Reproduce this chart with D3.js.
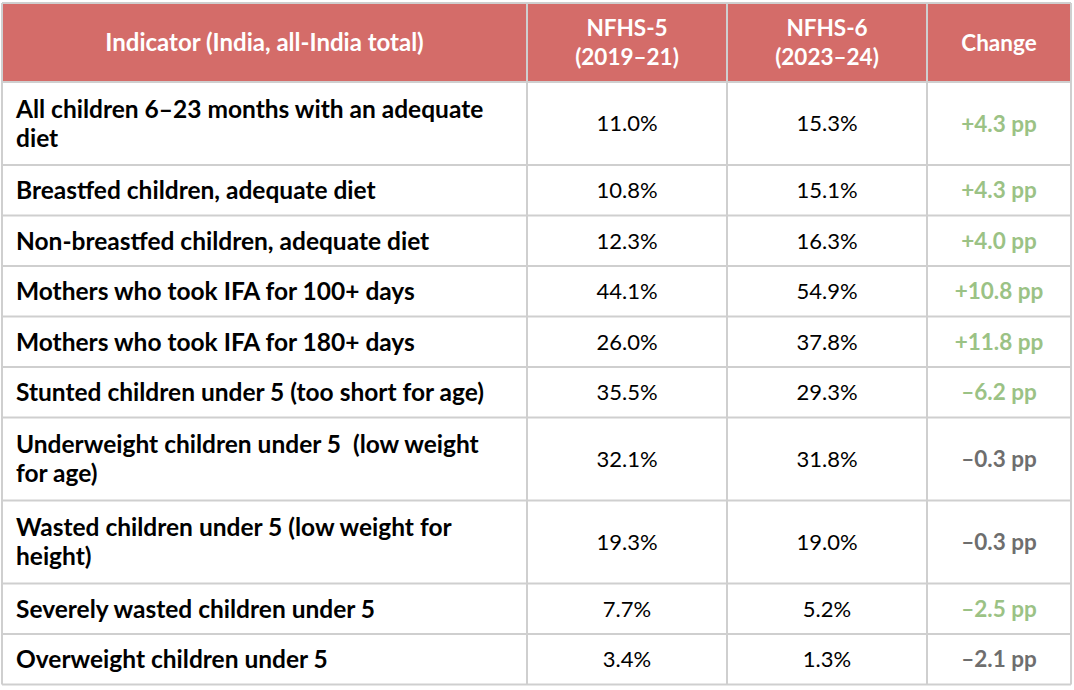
<!DOCTYPE html>
<html>
<head>
<meta charset="utf-8">
<script src="https://cdn.jsdelivr.net/npm/d3@7"></script>
<style>
  html, body { margin: 0; padding: 0; background: #fff; }
  svg { display: block; }
</style>
</head>
<body>
<svg id="table" width="1074" height="690"></svg>
<script>
// Table data
const headers = [["Indicator (India, all-India total)"], ["NFHS-5", "(2019–21)"], ["NFHS-6", "(2023–24)"], ["Change"]];
const indicators = [
    ["All children 6–23 months with an adequate", "diet"],
    ["Breastfed children, adequate diet"],
    ["Non-breastfed children, adequate diet"],
    ["Mothers who took IFA for 100+ days"],
    ["Mothers who took IFA for 180+ days"],
    ["Stunted children under 5 (too short for age)"],
    ["Underweight children under 5  (low weight", "for age)"],
    ["Wasted children under 5 (low weight for", "height)"],
    ["Severely wasted children under 5"],
    ["Overweight children under 5"]
];
const nfhs5 = [11.0, 10.8, 12.3, 44.1, 26.0, 35.5, 32.1, 19.3, 7.7, 3.4];
const nfhs6 = [15.3, 15.1, 16.3, 54.9, 37.8, 29.3, 31.8, 19.0, 5.2, 1.3];
const change = [4.3, 4.3, 4.0, 10.8, 11.8, -6.2, -0.3, -0.3, -2.5, -2.1];
// whether the change is highlighted as an improvement (green) in the source
const improved = [true, true, true, true, true, true, false, false, true, false];

const svg = d3.select("#table");
const font = "Lato, 'Open Sans', sans-serif";

// column edges
const colEdges = [2, 527, 727, 927, 1071];
const x = d3.scaleOrdinal().domain(d3.range(4)).range(colEdges.slice(0, 4));
const colWidth = i => colEdges[i + 1] - colEdges[i];

// row heights: header, then ~50px per single line row, 83px for two lines
const headerH = 79;
const rowH = d => d.length > 1 ? 83 : 50.5;
const tableTop = 3;
const rowY = [tableTop + headerH];
indicators.forEach((d, i) => rowY.push(rowY[i] + rowH(d)));
const tableBottom = rowY[rowY.length - 1];

const pct = d3.format(".1f");
const fmtChange = v => (v > 0 ? "+" : "–") + pct(Math.abs(v)) + " pp";

// header background
svg.append("rect")
    .attr("x", colEdges[0])
    .attr("y", tableTop)
    .attr("width", colEdges[4] - colEdges[0])
    .attr("height", headerH)
    .attr("fill", "#d46c69");

// header text
const lineH = 29;
headers.forEach((lines, c) => {
    const cx = x(c) + colWidth(c) / 2;
    const cy = tableTop + headerH / 2;
    const t = svg.append("text")
        .attr("text-anchor", "middle")
        .attr("font-family", font)
        .attr("font-weight", "bold")
        .attr("font-size", c === 0 ? "24px" : "22.5px")
        .attr("fill", "#fff");
    lines.forEach((l, k) => {
        t.append("tspan")
            .attr("x", cx)
            .attr("y", cy + (k - (lines.length - 1) / 2) * 29)
            .attr("dy", "0.36em")
            .text(l);
    });
});

// body rows
indicators.forEach((lines, i) => {
    const y0 = rowY[i];
    const cy = y0 + rowH(lines) / 2;
    const g = svg.append("g");

    const t = g.append("text")
        .attr("font-family", font)
        .attr("font-weight", "bold")
        .attr("font-size", "24.5px")
        .attr("fill", "#000");
    lines.forEach((l, k) => {
        t.append("tspan")
            .attr("x", x(0) + 14)
            .attr("y", cy + (k - (lines.length - 1) / 2) * lineH)
            .attr("dy", "0.36em")
            .attr("xml:space", "preserve")
            .text(l);
    });

    [nfhs5[i], nfhs6[i]].forEach((v, k) => {
        g.append("text")
            .attr("x", x(k + 1) + colWidth(k + 1) / 2)
            .attr("y", cy)
            .attr("dy", "0.36em")
            .attr("text-anchor", "middle")
            .attr("font-family", font)
            .attr("font-size", "22px")
            .attr("fill", "#000")
            .text(pct(v) + "%");
    });

    g.append("text")
        .attr("x", x(3) + colWidth(3) / 2)
        .attr("y", cy)
        .attr("dy", "0.36em")
        .attr("text-anchor", "middle")
        .attr("font-family", font)
        .attr("font-weight", "bold")
        .attr("font-size", "22.5px")
        .attr("fill", improved[i] ? "#9bc285" : "#6e6e6e")
        .text(fmtChange(change[i]));
});

// grid lines
const grid = svg.append("g")
    .attr("stroke", "#cfcfcf")
    .attr("stroke-width", 2)
    .attr("fill", "none");

grid.selectAll("line.h")
    .data([tableTop].concat(rowY))
    .join("line")
    .attr("class", "h")
    .attr("x1", colEdges[0])
    .attr("x2", colEdges[4])
    .attr("y1", d => d)
    .attr("y2", d => d);

grid.selectAll("line.v")
    .data(colEdges)
    .join("line")
    .attr("class", "v")
    .attr("x1", d => d)
    .attr("x2", d => d)
    .attr("y1", tableTop)
    .attr("y2", tableBottom);
</script>
</body>
</html>
